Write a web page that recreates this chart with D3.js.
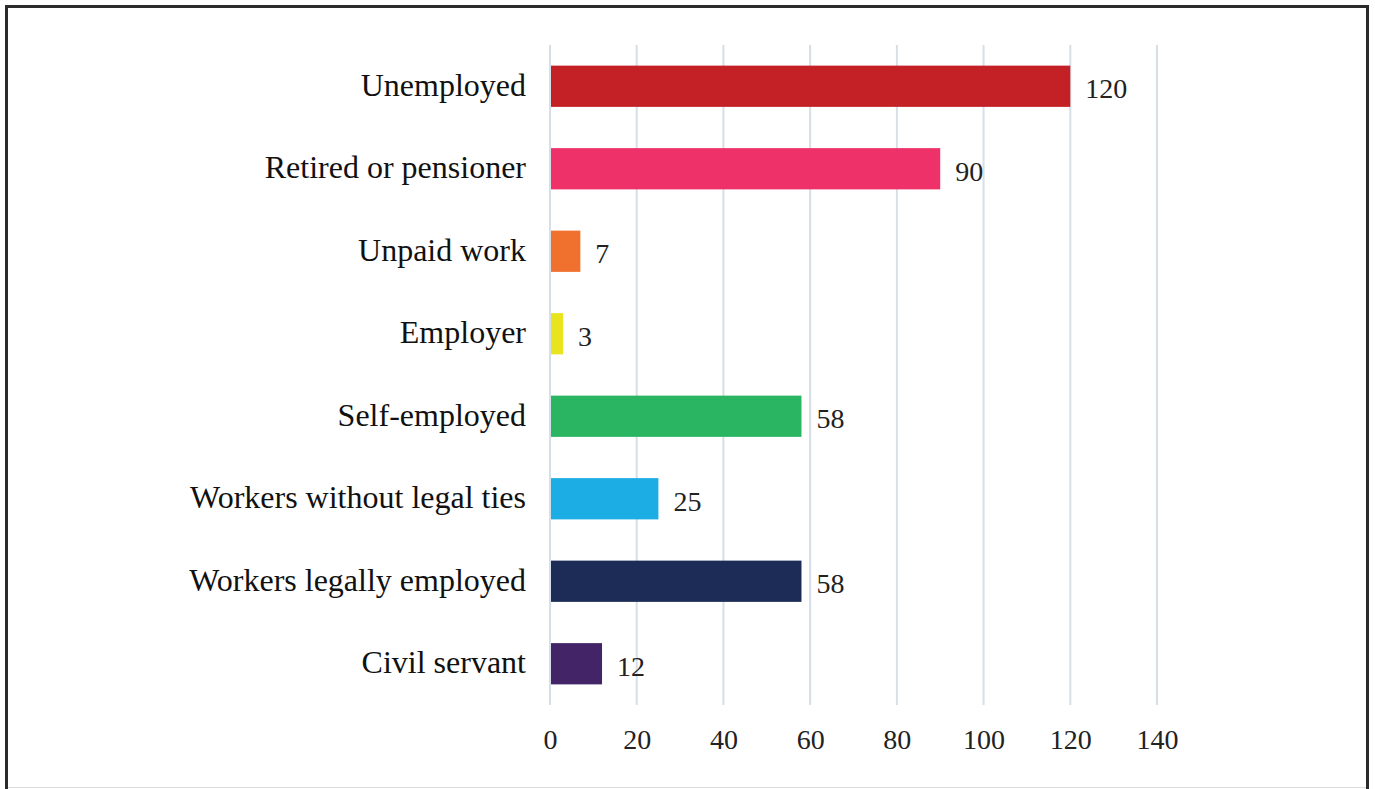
<!DOCTYPE html>
<html>
<head>
<meta charset="utf-8">
<script src="https://cdn.jsdelivr.net/npm/d3@7"></script>
<style>
  html, body { margin: 0; padding: 0; background: #fff; }
  svg { display: block; }
</style>
</head>
<body>
<svg id="chart" width="1375" height="789"></svg>
<script>
// Respondents by employment status
const categories = [
  "Unemployed",
  "Retired or pensioner",
  "Unpaid work",
  "Employer",
  "Self-employed",
  "Workers without legal ties",
  "Workers legally employed",
  "Civil servant"
];
const counts = [120, 90, 7, 3, 58, 25, 58, 12];
const barColors = ["#C42126", "#EE3169", "#F0702D", "#E8E41E", "#2AB562", "#1BADE3", "#1C2C57", "#432567"];
const xTicks = [0, 20, 40, 60, 80, 100, 120, 140];

const svg = d3.select("#chart");
const fontFamily = "'Liberation Serif', 'Times New Roman', serif";

// outer frame
svg.append("rect")
  .attr("x", 6.5).attr("y", 6.5)
  .attr("width", 1361).attr("height", 800)
  .attr("fill", "none")
  .attr("stroke", "#2b2b2b")
  .attr("stroke-width", 3);
svg.append("line")
  .attr("x1", 8).attr("x2", 1366)
  .attr("y1", 787.5).attr("y2", 787.5)
  .attr("stroke", "#dcdcdc").attr("stroke-width", 1);

const x = d3.scaleLinear().domain([0, 140]).range([550, 1157]);
const y = d3.scaleBand().domain(categories).range([45, 705]).paddingInner(0.5).paddingOuter(0.25);

// vertical gridlines
svg.append("g").selectAll("line")
  .data(xTicks)
  .join("line")
  .attr("x1", d => x(d)).attr("x2", d => x(d))
  .attr("y1", 45).attr("y2", 705)
  .attr("stroke", "#D6DFE7")
  .attr("stroke-width", 2);

// bars
svg.append("g").selectAll("rect")
  .data(categories)
  .join("rect")
  .attr("x", x(0) + 1)
  .attr("y", d => y(d))
  .attr("width", (d, i) => x(counts[i]) - x(0) - 1)
  .attr("height", y.bandwidth())
  .attr("fill", (d, i) => barColors[i]);

// value labels
svg.append("g").selectAll("text")
  .data(categories)
  .join("text")
  .attr("x", (d, i) => x(counts[i]) + 15)
  .attr("y", d => y(d) + y.bandwidth() / 2 + 2)
  .attr("dy", "0.35em")
  .attr("font-family", fontFamily)
  .attr("font-size", 28)
  .attr("fill", "#222")
  .text((d, i) => counts[i]);

// category axis
const yAxis = d3.axisLeft(y).tickSize(0).tickPadding(24);
const gy = svg.append("g").attr("transform", `translate(550,0)`).call(yAxis);
gy.select(".domain").remove();
gy.selectAll("text")
  .attr("font-family", fontFamily)
  .attr("font-size", 32)
  .attr("fill", "#111")
  .attr("dy", "0.3em");

// value axis
const xAxis = d3.axisBottom(x).tickValues(xTicks).tickSize(0).tickPadding(24);
const gx = svg.append("g").attr("transform", `translate(0,705)`).call(xAxis);
gx.select(".domain").remove();
gx.selectAll("text")
  .attr("font-family", fontFamily)
  .attr("font-size", 28)
  .attr("fill", "#222");
</script>
</body>
</html>
